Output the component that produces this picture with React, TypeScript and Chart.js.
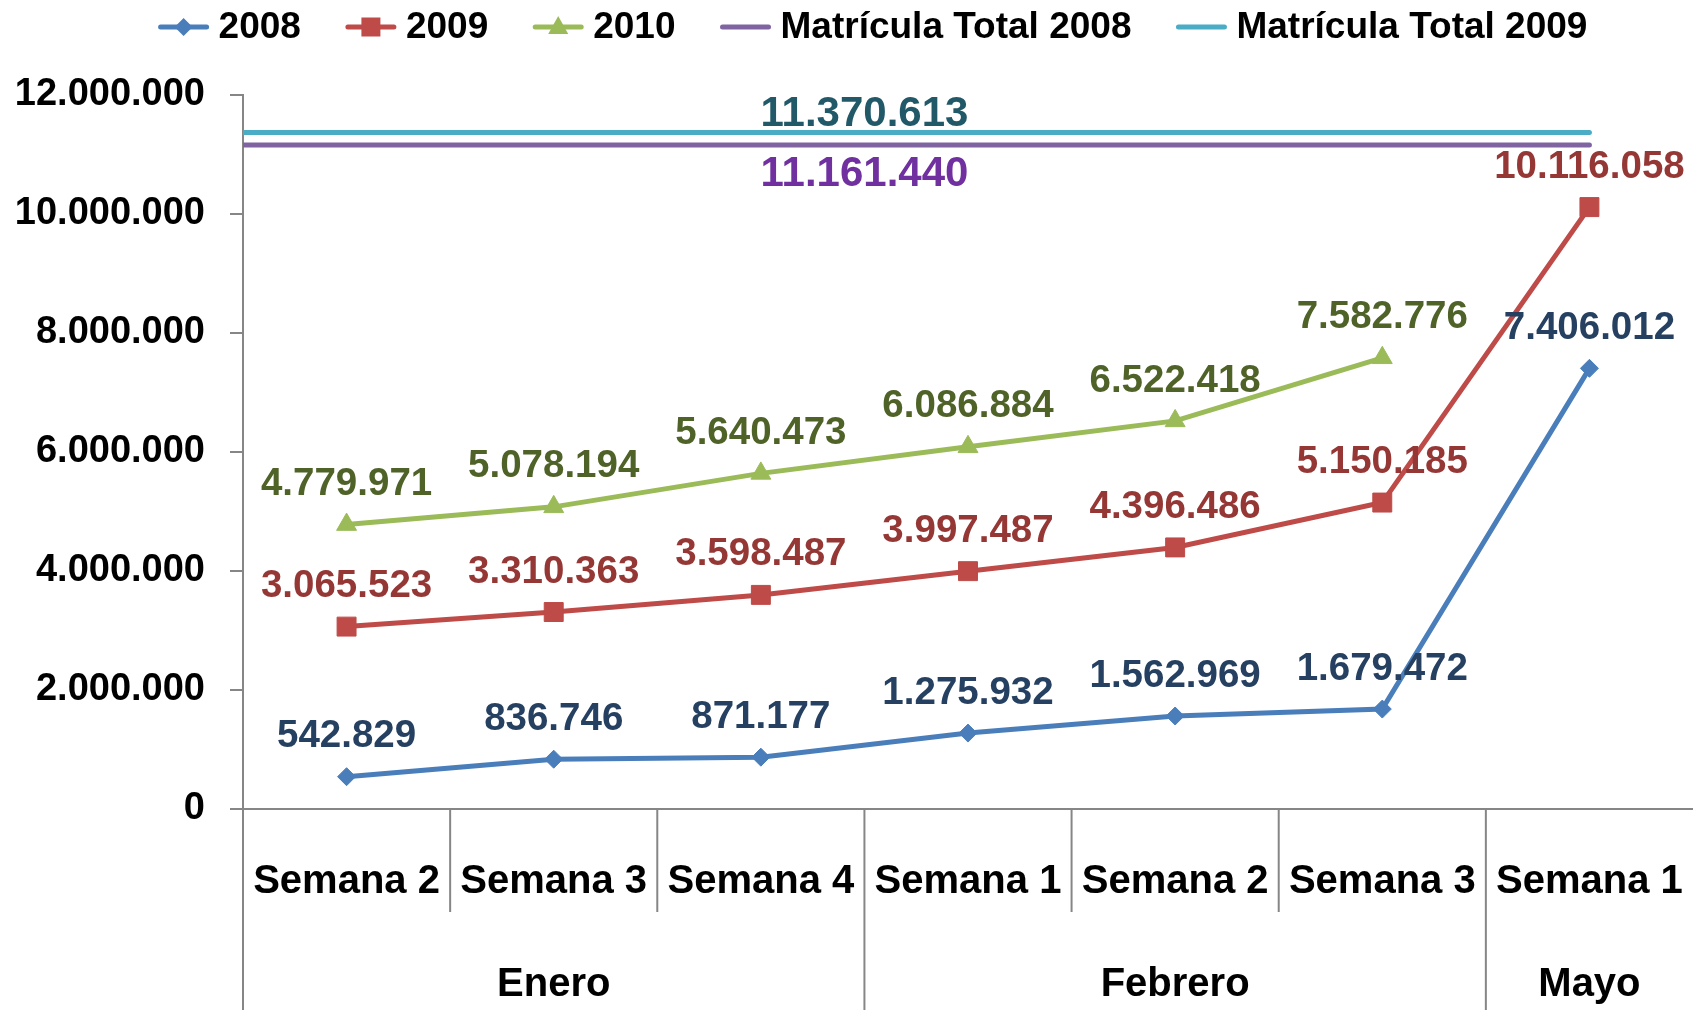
import React, { useEffect, useRef } from "react";
import { Chart, registerables } from "chart.js";

Chart.register(...registerables);

// ---------- data ----------
const weeks = ["Semana 2", "Semana 3", "Semana 4", "Semana 1", "Semana 2", "Semana 3", "Semana 1"];
const months = ["Enero", "Febrero", "Mayo"];
const monthSpans = [3, 3, 1];
const serie2008 = [542829, 836746, 871177, 1275932, 1562969, 1679472, 7406012];
const serie2009 = [3065523, 3310363, 3598487, 3997487, 4396486, 5150185, 10116058];
const serie2010 = [4779971, 5078194, 5640473, 6086884, 6522418, 7582776, null];
const matricula2008 = 11161440;
const matricula2009 = 11370613;
const seriesNames = ["2008", "2009", "2010", "Matrícula Total 2008", "Matrícula Total 2009"];
const yMin = 0;
const yMax = 12000000;
const yStep = 2000000;
const matriculaLabelPos = 2.5;

// ---------- styles ----------
const FONT = '"Liberation Sans", Arial, sans-serif';
const lineColors = ["#4A7EBB", "#BE4B48", "#9BBB59", "#8064A2", "#4BACC6"];
const labelColors = ["#254061", "#953735", "#4F6228", "#7030A0", "#215968"];
const markers = ["diamond", "square", "triangle", "none", "none"];
const AXIS = "#868686";

const fmt = (n: number) => String(Math.round(n)).replace(/\B(?=(\d{3})+(?!\d))/g, ".");

function drawMarker(ctx: CanvasRenderingContext2D, kind: string, x: number, y: number, color: string) {
  ctx.fillStyle = color;
  ctx.beginPath();
  if (kind === "diamond") {
    const r = 9;
    ctx.moveTo(x, y - r);
    ctx.lineTo(x + r, y);
    ctx.lineTo(x, y + r);
    ctx.lineTo(x - r, y);
  } else if (kind === "square") {
    const h = 9.5;
    ctx.rect(x - h, y - h, 2 * h, 2 * h);
  } else if (kind === "triangle") {
    ctx.moveTo(x, y - 11);
    ctx.lineTo(x + 10, y + 7);
    ctx.lineTo(x - 10, y + 7);
  } else {
    return;
  }
  ctx.closePath();
  ctx.fill();
}

const axisPlugin = {
  id: "catAxis",
  beforeDatasetsDraw(chart: any) {
    const ctx = chart.ctx as CanvasRenderingContext2D;
    const area = chart.chartArea;
    ctx.save();
    ctx.strokeStyle = AXIS;
    ctx.lineWidth = 2;
    ctx.beginPath();
    ctx.moveTo(area.left, area.bottom);
    ctx.lineTo(area.right, area.bottom);
    ctx.stroke();
    ctx.restore();
  },
  afterDraw(chart: any) {
    const ctx = chart.ctx as CanvasRenderingContext2D;
    const x = chart.scales.x;
    const area = chart.chartArea;
    const half = (x.getPixelForValue(1) - x.getPixelForValue(0)) / 2;
    const monthStarts: number[] = [];
    let acc = 0;
    monthSpans.forEach((s) => {
      monthStarts.push(acc);
      acc += s;
    });
    ctx.save();
    ctx.strokeStyle = AXIS;
    ctx.lineWidth = 2;
    for (let i = 0; i < weeks.length; i++) {
      const bx = x.getPixelForValue(i) - half;
      const isMonth = monthStarts.includes(i);
      ctx.beginPath();
      ctx.moveTo(bx, area.bottom);
      ctx.lineTo(bx, isMonth ? chart.height : area.bottom + 103);
      ctx.stroke();
    }
    ctx.fillStyle = "#000";
    ctx.textAlign = "center";
    ctx.textBaseline = "middle";
    ctx.font = `bold 40px ${FONT}`;
    weeks.forEach((w, i) => {
      ctx.fillText(w, x.getPixelForValue(i), area.bottom + 73);
    });
    months.forEach((m, k) => {
      const s = monthStarts[k];
      const e = s + monthSpans[k] - 1;
      const cx = (x.getPixelForValue(s) + x.getPixelForValue(e)) / 2;
      ctx.fillText(m, cx, area.bottom + 176);
    });
    ctx.restore();
  },
};

const labelPlugin = {
  id: "valueLabels",
  afterDatasetsDraw(chart: any) {
    const ctx = chart.ctx as CanvasRenderingContext2D;
    ctx.save();
    ctx.textAlign = "center";
    ctx.textBaseline = "middle";
    chart.data.datasets.forEach((ds: any, di: number) => {
      const meta = chart.getDatasetMeta(di);
      ctx.fillStyle = labelColors[di];
      if (di < 3) {
        ctx.font = `bold 38.5px ${FONT}`;
        meta.data.forEach((pt: any, i: number) => {
          const v = ds.data[i];
          if (v == null) return;
          ctx.fillText(fmt(v), pt.x, pt.y - 40);
        });
      } else {
        ctx.font = `bold 42px ${FONT}`;
        const v = ds.data[0].y;
        const px = chart.scales.xm.getPixelForValue(matriculaLabelPos);
        const py = chart.scales.y.getPixelForValue(v);
        const off = di === 4 ? -18 : 30;
        ctx.fillText(fmt(v), px, py + off);
      }
    });
    ctx.restore();
  },
};

const legendPlugin = {
  id: "customLegend",
  afterDraw(chart: any) {
    const ctx = chart.ctx as CanvasRenderingContext2D;
    ctx.save();
    ctx.font = `bold 37px ${FONT}`;
    ctx.textBaseline = "middle";
    ctx.textAlign = "left";
    const lineLen = 50;
    const gapText = 10;
    const gapItem = 45;
    const widths = seriesNames.map((n) => ctx.measureText(n).width);
    const total = widths.reduce((a, w) => a + lineLen + gapText + w, 0) + gapItem * (seriesNames.length - 1);
    let cx = 873 - total / 2;
    const cy = 27;
    seriesNames.forEach((n, i) => {
      ctx.strokeStyle = lineColors[i];
      ctx.lineWidth = 5;
      ctx.lineCap = "round";
      ctx.beginPath();
      ctx.moveTo(cx + 2, cy);
      ctx.lineTo(cx + lineLen - 2, cy);
      ctx.stroke();
      drawMarker(ctx, markers[i], cx + lineLen / 2, cy, lineColors[i]);
      ctx.fillStyle = "#000";
      ctx.fillText(n, cx + lineLen + gapText, cy + 1);
      cx += lineLen + gapText + widths[i] + gapItem;
    });
    ctx.restore();
  },
};

export default function App() {
  const ref = useRef<HTMLCanvasElement>(null);
  useEffect(() => {
    const canvas = ref.current;
    if (!canvas) return;
    const chart = new Chart(canvas, {
      type: "line",
      data: {
        labels: weeks,
        datasets: [
          {
            label: seriesNames[0],
            data: serie2008,
            xAxisID: "x",
            borderColor: lineColors[0],
            backgroundColor: lineColors[0],
            borderWidth: 5,
            pointStyle: "rectRot",
            pointRadius: 9,
            pointBorderWidth: 1,
            pointBackgroundColor: lineColors[0],
            pointBorderColor: lineColors[0],
          },
          {
            label: seriesNames[1],
            data: serie2009,
            xAxisID: "x",
            borderColor: lineColors[1],
            backgroundColor: lineColors[1],
            borderWidth: 5,
            pointStyle: "rect",
            pointRadius: 13.4,
            pointBorderWidth: 1,
            pointBackgroundColor: lineColors[1],
            pointBorderColor: lineColors[1],
          },
          {
            label: seriesNames[2],
            data: serie2010,
            xAxisID: "x",
            borderColor: lineColors[2],
            backgroundColor: lineColors[2],
            borderWidth: 5,
            pointStyle: "triangle",
            pointRadius: 11.5,
            pointBorderWidth: 1,
            pointBackgroundColor: lineColors[2],
            pointBorderColor: lineColors[2],
          },
          {
            label: seriesNames[3],
            data: [
              { x: -0.5, y: matricula2008 },
              { x: weeks.length - 1, y: matricula2008 },
            ],
            xAxisID: "xm",
            borderColor: lineColors[3],
            backgroundColor: lineColors[3],
            borderWidth: 5,
            borderCapStyle: "round",
            pointRadius: 0,
          },
          {
            label: seriesNames[4],
            data: [
              { x: -0.5, y: matricula2009 },
              { x: weeks.length - 1, y: matricula2009 },
            ],
            xAxisID: "xm",
            borderColor: lineColors[4],
            backgroundColor: lineColors[4],
            borderWidth: 5,
            borderCapStyle: "round",
            pointRadius: 0,
          },
        ] as any,
      },
      options: {
        responsive: false,
        animation: false,
        layout: { autoPadding: false, padding: { top: 95, bottom: 201, left: 0, right: 0 } },
        plugins: {
          legend: { display: false },
          tooltip: { enabled: false },
        },
        scales: {
          x: { type: "category", offset: true, display: false },
          xm: { type: "linear", display: false, min: -0.5, max: weeks.length - 0.5 },
          y: {
            min: yMin,
            max: yMax,
            afterFit: (s: any) => {
              s.width = 243;
            },
            ticks: {
              stepSize: yStep,
              callback: (v: any) => fmt(Number(v)),
              color: "#000",
              padding: 25,
              font: { family: FONT, size: 38, weight: "bold" },
            },
            grid: {
              drawOnChartArea: false,
              drawTicks: true,
              tickLength: 13,
              color: AXIS,
              lineWidth: 2,
            },
            border: { display: true, color: AXIS, width: 2 },
          },
        } as any,
      },
      plugins: [axisPlugin, labelPlugin, legendPlugin],
    });
    return () => chart.destroy();
  }, []);
  return (
    <div style={{ position: "absolute", left: 0, top: 0, width: 1693, height: 1010, background: "#fff" }}>
      <canvas ref={ref} width={1693} height={1010} style={{ display: "block" }} />
    </div>
  );
}
